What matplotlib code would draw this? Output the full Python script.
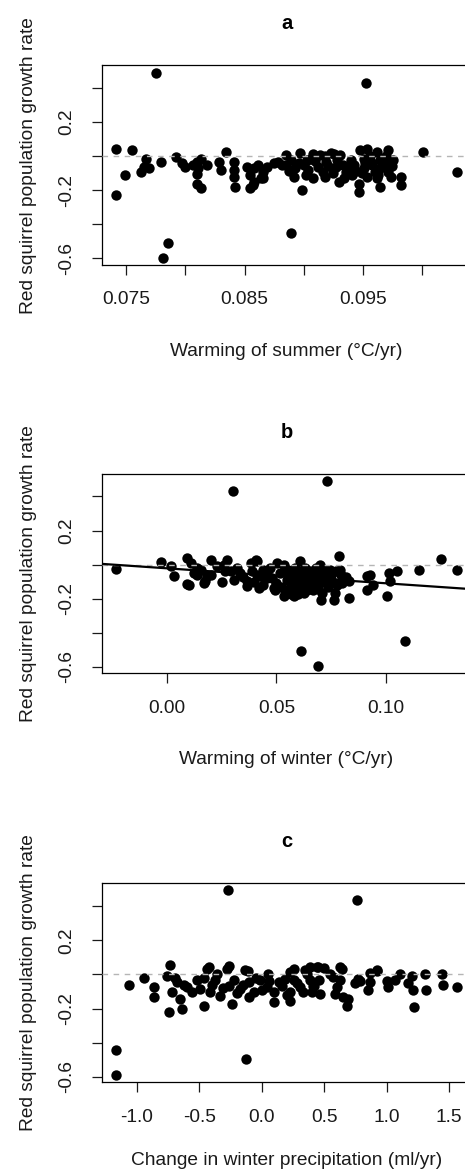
"""Red squirrel growth rate vs climate change, three stacked scatter panels."""
import numpy as np
import matplotlib
matplotlib.use('Agg')
import matplotlib.pyplot as plt

plt.rcParams['font.family'] = ['Liberation Sans', 'DejaVu Sans']

# --- data (x, growth rate) ---
summer_pts = [
    (0.0775, 0.49), (0.0953, 0.428), (0.0741, 0.045), (0.0755, 0.035), (0.0741, -0.229),
    (0.0749, -0.112), (0.0781, -0.596), (0.0785, -0.508), (0.0889, -0.451), (0.1001, 0.025),
    (0.1030, -0.092), (0.0762, -0.092), (0.0765, -0.063), (0.0767, -0.014), (0.0769, -0.072),
    (0.0779, -0.037), (0.0792, -0.004), (0.0797, -0.043), (0.0800, -0.063), (0.0806, -0.053),
    (0.0810, -0.033), (0.0811, -0.072), (0.0813, -0.014), (0.0818, -0.053), (0.0810, -0.102),
    (0.0810, -0.161), (0.0813, -0.190), (0.0828, -0.033), (0.0834, 0.025), (0.0830, -0.082),
    (0.0841, -0.033), (0.0841, -0.082), (0.0841, -0.122), (0.0842, -0.180), (0.0852, -0.063),
    (0.0855, -0.112), (0.0858, -0.072), (0.0861, -0.053), (0.0857, -0.171), (0.0864, -0.131),
    (0.0866, -0.092), (0.0869, -0.063), (0.0875, -0.043), (0.0878, -0.033), (0.0882, -0.053),
    (0.0855, -0.190), (0.0858, -0.150), (0.0866, -0.130),
    (0.0885, 0.006), (0.0885, -0.053), (0.0889, -0.024), (0.0893, -0.072), (0.0897, 0.016),
    (0.0900, -0.053), (0.0902, -0.112), (0.0906, -0.014), (0.0912, -0.063), (0.0914, 0.006),
    (0.0916, -0.092), (0.0919, -0.033), (0.0923, 0.016), (0.0927, -0.063), (0.0930, -0.151),
    (0.0931, 0.006), (0.0936, -0.092), (0.0940, -0.024), (0.0941, -0.112), (0.0899, -0.200),
    (0.0888, -0.090), (0.0892, -0.120), (0.0896, -0.040), (0.0904, -0.080), (0.0908, -0.130),
    (0.0910, -0.030), (0.0918, -0.120), (0.0921, -0.060), (0.0925, -0.100), (0.0928, -0.020),
    (0.0933, -0.050), (0.0934, -0.130), (0.0938, -0.070), (0.0943, -0.050), (0.0944, -0.090),
    (0.0918, 0.000), (0.0908, 0.010), (0.0926, 0.010), (0.0903, -0.020),
    (0.0947, -0.161), (0.0947, -0.210),
    (0.0948, 0.035), (0.0954, 0.045), (0.0962, 0.025), (0.0971, 0.035), (0.0951, -0.014),
    (0.0957, -0.033), (0.0965, -0.024), (0.0972, -0.043), (0.0951, -0.072), (0.0960, -0.092),
    (0.0965, -0.072), (0.0971, -0.092), (0.0962, -0.131), (0.0965, -0.180), (0.0954, -0.122),
    (0.0974, -0.122), (0.0958, -0.050), (0.0968, -0.050), (0.0975, -0.060), (0.0949, -0.100),
    (0.0956, 0.000), (0.0970, 0.000), (0.0976, -0.020), (0.0952, -0.040), (0.0963, -0.110),
    (0.0982, -0.122), (0.0982, -0.171),
]

winter_pts = [
    (-0.0232, -0.025), (0.0303, 0.430), (0.0730, 0.490), (0.0612, -0.504), (0.0689, -0.594),
    (0.1086, -0.447), (0.1249, 0.035), (0.1324, -0.030), (0.1151, -0.034),
    (0.1049, -0.039), (0.1011, -0.049), (0.1018, -0.098), (0.1003, -0.182), (0.0912, -0.069),
    (0.0927, -0.059), (0.0912, -0.147), (0.0942, -0.118), (0.0829, -0.196), (0.0783, 0.049),
    (0.0761, -0.206), (0.0768, -0.167), (0.0705, -0.206), (0.0708, -0.167),
    (-0.0027, 0.013), (0.0018, -0.010), (0.0033, -0.069),
    (0.0094, 0.039), (0.0109, 0.010), (0.0094, -0.112), (0.0124, -0.049), (0.0155, -0.029),
    (0.0170, -0.108), (0.0185, -0.069), (0.0200, 0.029), (0.0230, -0.010), (0.0276, 0.029),
    (0.0291, -0.039), (0.0306, -0.088), (0.0336, -0.049), (0.0367, -0.127), (0.0382, 0.010),
    (0.0412, 0.020), (0.0420, -0.137), (0.0427, -0.069), (0.0458, -0.049), (0.0503, 0.010),
    (0.0495, -0.147), (0.0533, 0.000), (0.0533, -0.186), (0.0548, -0.088), (0.0579, -0.186),
    (0.0594, -0.127), (0.0609, 0.020), (0.0609, -0.069), (0.0639, -0.088), (0.0670, -0.049),
    (0.0700, 0.000), (0.0670, -0.127), (0.0745, -0.029), (0.0791, -0.029), (0.0806, -0.088),
    (0.0829, -0.098),
    (0.0101, -0.118), (0.0139, -0.059), (0.0177, -0.098), (0.0268, -0.039), (0.0367, -0.098),
    (0.0405, 0.029), (0.0412, -0.059), (0.0458, -0.078), (0.0488, -0.137), (0.0533, -0.039),
    (0.0470, -0.020), (0.0480, -0.080), (0.0500, -0.110), (0.0515, -0.050), (0.0520, -0.130),
    (0.0540, -0.150), (0.0555, -0.030), (0.0560, -0.100), (0.0570, -0.060), (0.0575, -0.140),
    (0.0585, -0.020), (0.0590, -0.090), (0.0600, -0.170), (0.0615, -0.050), (0.0620, -0.120),
    (0.0630, -0.020), (0.0640, -0.150), (0.0650, -0.080), (0.0655, -0.040), (0.0660, -0.110),
    (0.0680, -0.020), (0.0685, -0.090), (0.0690, -0.140), (0.0700, -0.060), (0.0715, -0.100),
    (0.0720, -0.030), (0.0730, -0.070), (0.0735, -0.130), (0.0750, -0.060), (0.0760, -0.100),
    (0.0770, -0.040), (0.0775, -0.120), (0.0795, -0.060), (0.0800, -0.110), (0.0815, -0.070),
    (0.0140, -0.020), (0.0200, -0.060), (0.0250, -0.100), (0.0260, 0.000), (0.0320, -0.020),
    (0.0350, -0.070), (0.0390, -0.040), (0.0400, -0.100), (0.0440, -0.030), (0.0440, -0.120),
    (0.0565, -0.175), (0.0625, -0.165), (0.0595, -0.030), (0.0665, -0.150), (0.0745, -0.100),
]
winter_fit = (-0.0215, -0.88)  # intercept, slope of the fitted line

precip_pts = [
    (-0.272, 0.494), (0.760, 0.435), (-1.166, -0.443), (-1.171, -0.588), (-0.128, -0.496),
    (-1.067, -0.059), (-0.947, -0.022), (-0.867, -0.075), (-0.862, -0.129), (-0.734, 0.057),
    (-0.760, -0.006), (-0.747, -0.222),
    (1.221, -0.192), (1.565, -0.075), (1.440, 0.000), (1.453, -0.060), (1.307, 0.000),
    (1.317, -0.088), (1.200, -0.010), (1.213, -0.088), (1.173, -0.050), (1.107, 0.000),
    (1.067, -0.030), (1.013, -0.075), (1.000, -0.040), (0.920, 0.020), (0.867, 0.010),
    (0.853, -0.088), (0.867, -0.045), (0.787, -0.040), (0.747, -0.050), (0.680, -0.182),
    (0.653, -0.133), (0.626, 0.043), (0.600, -0.075), (0.573, -0.016), (0.626, -0.035),
    (0.586, -0.114), (0.546, 0.004),
    (0.186, -0.025), (0.226, -0.104), (0.253, 0.033), (0.346, 0.024), (0.386, -0.035),
    (0.400, -0.104), (0.453, 0.043), (0.413, -0.065), (0.640, 0.033), (0.693, -0.143),
    (0.773, -0.025), (0.920, 0.024),
    (-0.680, -0.045), (-0.720, -0.104), (-0.653, -0.143), (-0.640, -0.202), (-0.600, -0.075),
    (-0.520, -0.035), (-0.493, -0.084), (-0.467, -0.182), (-0.440, 0.033), (-0.413, -0.104),
    (-0.373, -0.035), (-0.333, -0.124), (-0.280, 0.033), (-0.267, -0.065), (-0.240, -0.172),
    (-0.173, -0.084), (-0.133, 0.024), (-0.107, -0.045), (-0.067, -0.104), (-0.013, -0.035),
    (0.040, -0.075), (0.093, -0.163), (0.133, -0.045),
    (0.226, 0.014), (0.253, -0.035), (0.306, -0.075), (0.386, 0.043), (0.440, 0.043),
    (0.466, -0.114), (0.226, -0.153), (-0.427, 0.043), (-0.110, 0.020),
    (-0.700, -0.020), (-0.620, -0.060), (-0.560, -0.100), (-0.460, -0.020), (-0.400, -0.060),
    (-0.360, 0.000), (-0.310, -0.080), (-0.220, -0.030), (-0.200, -0.110), (-0.150, -0.060),
    (-0.100, -0.130), (-0.050, -0.020), (0.000, -0.090), (0.060, -0.040), (0.100, -0.100),
    (0.160, -0.070), (0.200, -0.120), (0.280, -0.050), (0.330, -0.100), (0.360, 0.000),
    (0.420, -0.070), (0.460, -0.030), (0.500, 0.040), (0.050, 0.000), (-0.260, 0.050),
]

y_ticks = [-0.6, -0.4, -0.2, 0.0, 0.2, 0.4]
y_labels = ['-0.6', '', '-0.2', '', '0.2', '']

summer_ticks = [0.075, 0.080, 0.085, 0.090, 0.095, 0.100]
summer_labels = ['0.075', '', '0.085', '', '0.095', '']
winter_ticks = [0.00, 0.05, 0.10]
winter_labels = ['0.00', '0.05', '0.10']
precip_ticks = [-1.0, -0.5, 0.0, 0.5, 1.0, 1.5]
precip_labels = ['-1.0', '-0.5', '0.0', '0.5', '1.0', '1.5']

# title, points, x label, ticks, tick labels, fit, axes bottom, x label pad
panels = [
    ('a', summer_pts, 'Warming of summer (°C/yr)', summer_ticks, summer_labels, None, 0.7743, 25),
    ('b', winter_pts, 'Warming of winter (°C/yr)', winter_ticks, winter_labels, winter_fit, 0.4265, 25),
    ('c', precip_pts, 'Change in winter precipitation (ml/yr)', precip_ticks, precip_labels, None, 0.0781, 19),
]

TXT = '#1a1a1a'
fig = plt.figure(figsize=(4.65, 11.74), dpi=100)

for title, pts, xlabel, xt, xl, fit, bottom, xpad in panels:
    ax = fig.add_axes([0.2194, bottom, 0.7935, 0.1700])
    xy = np.array(pts)
    ax.scatter(xy[:, 0], xy[:, 1], s=56, color='black', linewidths=0, zorder=2)
    ax.margins(0.04)
    ax.axhline(0, color='#b5b5b5', lw=1.0, ls=(0, (4, 4)), zorder=3)
    if fit is not None:
        ax.axline((0, fit[0]), slope=fit[1], color='black', lw=1.6, zorder=4)

    ax.set_xticks(xt)
    ax.set_xticklabels(xl)
    ax.set_yticks(y_ticks)
    ax.set_yticklabels(y_labels, rotation=90, va='center')
    ax.tick_params(direction='out', length=7, width=0.9, labelsize=13.8,
                   colors=TXT)
    ax.tick_params(axis='x', pad=12)
    ax.tick_params(axis='y', pad=12.5)
    for sp in ax.spines.values():
        sp.set_linewidth(0.9)

    ax.set_title(title, fontsize=14.5, fontweight='bold', pad=26)
    ax.set_xlabel(xlabel, fontsize=13.8, labelpad=xpad, color=TXT)
    ax.set_ylabel('Red squirrel population growth rate', fontsize=13.8,
                  labelpad=15, color=TXT)

fig.savefig('out.png', dpi=100)
